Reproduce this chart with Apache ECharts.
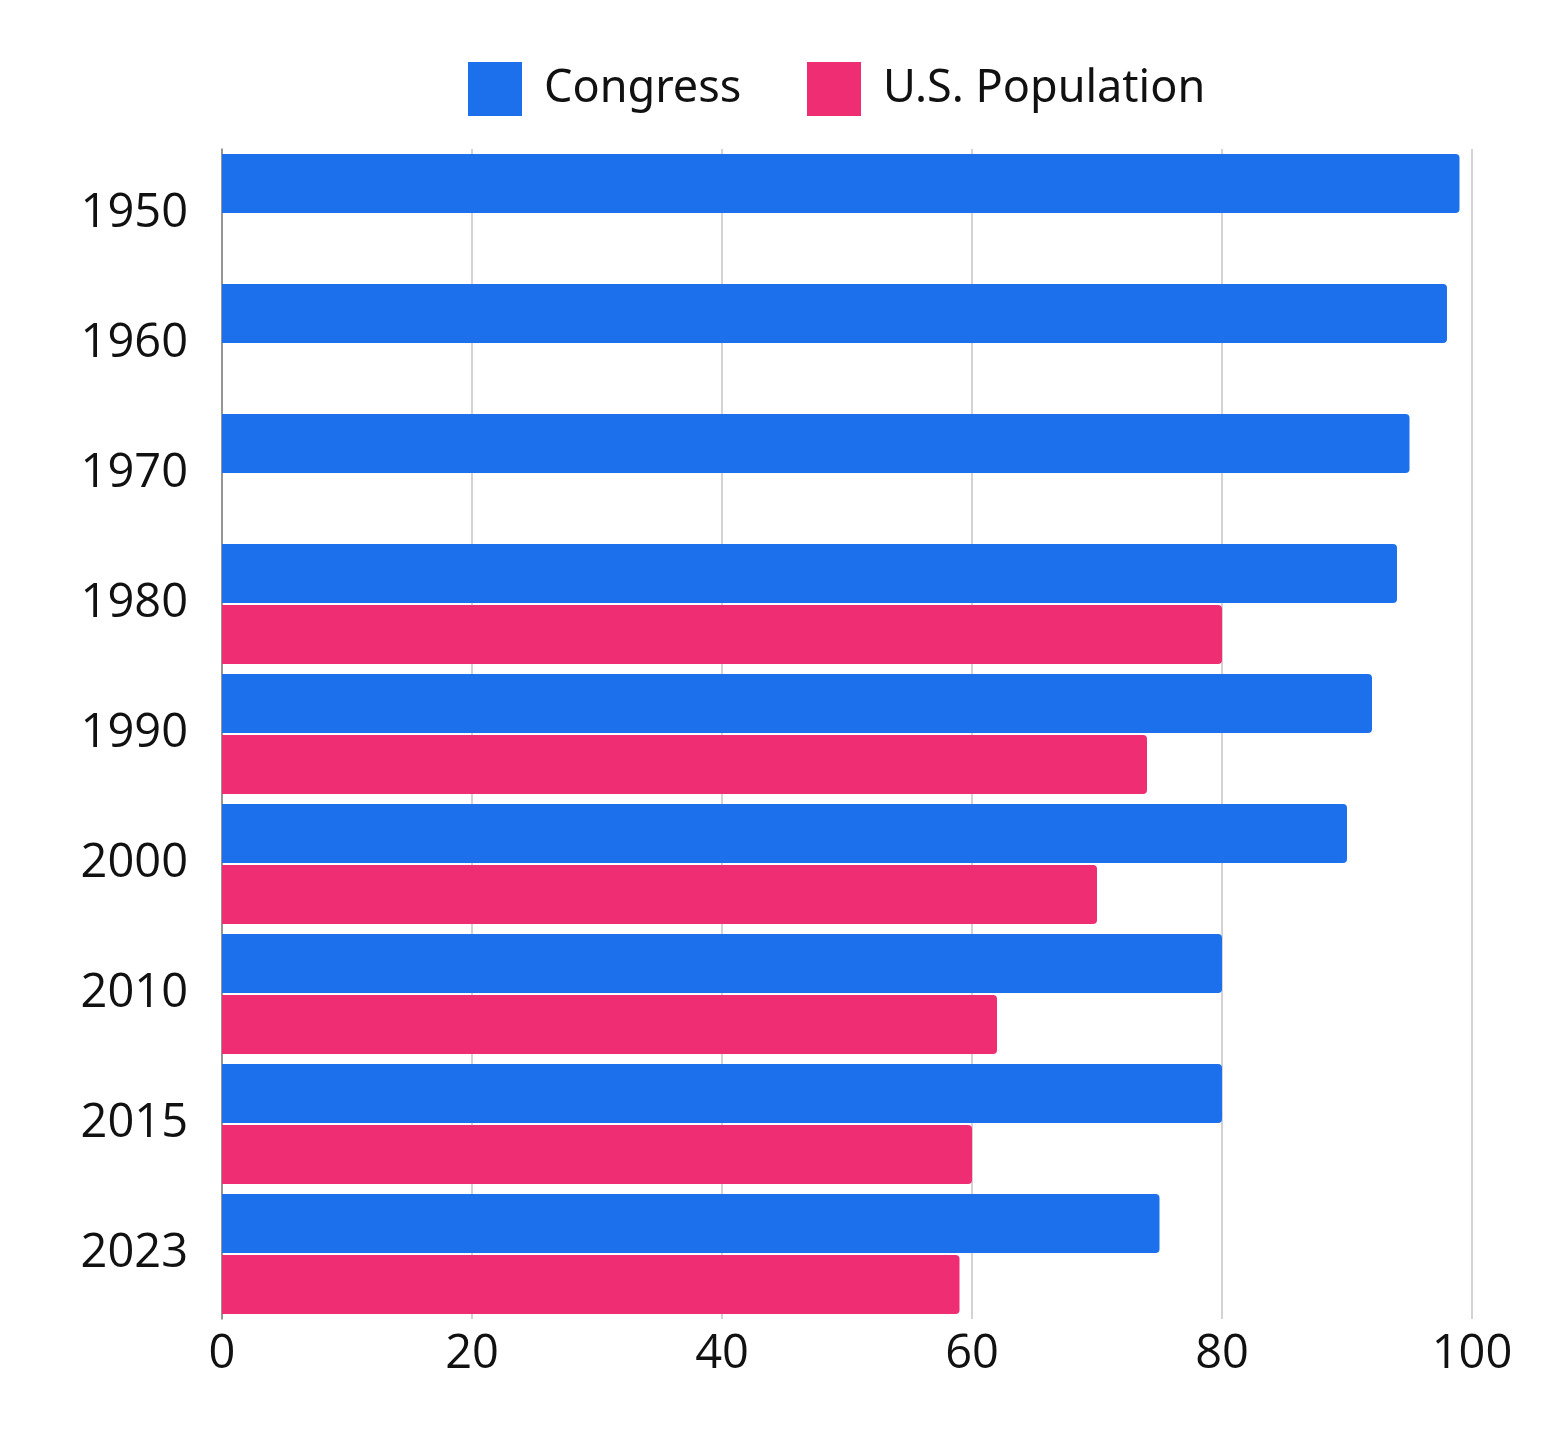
<!DOCTYPE html>
<html><head><meta charset="utf-8">
<script src="https://cdn.jsdelivr.net/npm/echarts@6/dist/echarts.min.js"></script>
<style>html,body{margin:0;padding:0;background:#fff}#c{width:1545px;height:1435px}</style>
</head><body><div id="c"></div>
<script>
const years = ['1950','1960','1970','1980','1990','2000','2010','2015','2023'];
const congress = [99, 98, 95, 94, 92, 90, 80, 80, 75];
const population = [null, null, null, 80, 74, 70, 62, 60, 59];
const xTicks = [0, 20, 40, 60, 80, 100];

const legendText = { fontFamily: 'Noto Sans', fontSize: 45, color: '#111', padding: [0, 0, 0, 17] };
const chart = echarts.init(document.getElementById('c'));
chart.setOption({
  animation: false,
  legend: [
    { left: 463, top: 57, itemWidth: 54, itemHeight: 54, icon: 'rect',
      textStyle: legendText, data: ['Congress'] },
    { left: 802, top: 57, itemWidth: 54, itemHeight: 54, icon: 'rect',
      textStyle: legendText, data: ['U.S. Population'] }
  ],
  grid: { left: 222, top: 149, width: 1250, height: 1170, containLabel: false },
  xAxis: {
    type: 'value', min: xTicks[0], max: xTicks[xTicks.length - 1], interval: 20,
    axisLine: { show: false }, axisTick: { show: false },
    splitLine: { lineStyle: { color: '#c4c4c4', width: 1.5 } },
    axisLabel: { fontFamily: 'Open Sans', fontSize: 47, color: '#111', margin: 12 }
  },
  yAxis: {
    type: 'category', data: years, inverse: true,
    axisLine: { lineStyle: { color: '#808080', width: 1.5 } },
    axisTick: { show: false },
    axisLabel: { fontFamily: 'Open Sans', fontSize: 47, color: '#111', margin: 34 }
  },
  series: [
    { name: 'Congress', type: 'bar', data: congress, barWidth: 59, barGap: '3.4%',
      itemStyle: { color: '#1C70EC', borderRadius: [0, 4, 4, 0] } },
    { name: 'U.S. Population', type: 'bar', data: population, barWidth: 59, barGap: '3.4%',
      itemStyle: { color: '#EF2D73', borderRadius: [0, 4, 4, 0] } }
  ]
});
</script></body></html>
